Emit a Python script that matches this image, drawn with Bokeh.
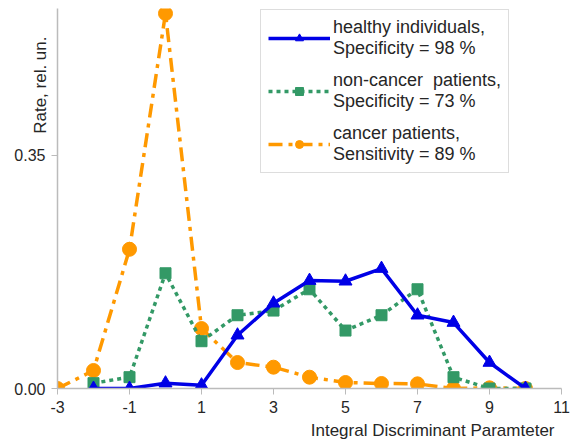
from bokeh.plotting import figure
from bokeh.models import Legend, LegendItem, FixedTicker, NumeralTickFormatter, Range1d, Title
from bokeh.embed import file_html
from bokeh.resources import INLINE

healthy_x = [-2, -1, 0, 1, 2, 3, 4, 5, 6, 7, 8, 9, 10]
healthy = [0.0, 0.0, 0.008, 0.005, 0.080, 0.128, 0.162, 0.161, 0.180, 0.110, 0.099, 0.039, 0.0]

noncancer_x = [-2, -1, 0, 1, 2, 3, 4, 5, 6, 7, 8, 9, 10]
noncancer = [0.008, 0.017, 0.173, 0.071, 0.110, 0.117, 0.149, 0.087, 0.110, 0.149, 0.017, 0.0, 0.0]

cancer_x = [-3, -2, -1, 0, 1, 2, 3, 4, 5, 6, 7, 8, 9, 10]
cancer = [0.0, 0.027, 0.209, 0.563, 0.090, 0.039, 0.032, 0.017, 0.009, 0.0075, 0.007, 0.0, 0.001, 0.0]

x_ticks = [-3, -1, 1, 3, 5, 7, 9, 11]
y_ticks = [0.0, 0.35]
x_tick_labels = {t: str(t) for t in x_ticks}

labels = ["healthy individuals,\nSpecificity = 98 %",
          "non-cancer  patients,\nSpecificity = 73 %",
          "cancer patients,\nSensitivity = 89 %"]
x_title = "Integral Discriminant Paramteter"
y_title = "Rate, rel. un."

BLUE = "#0000e6"
GREEN = "#339966"
ORANGE = "#ff9900"
TEXT = "#262626"
FONT = "Liberation Sans"

p = figure(width=571, height=445, output_backend="svg", toolbar_location=None,
           x_range=Range1d(-3, 11), y_range=Range1d(0, 0.5705),
           min_border_left=57, min_border_right=10, min_border_top=8, min_border_bottom=57)
p.outline_line_color = None
p.xgrid.visible = False
p.ygrid.visible = False

r_can_l = p.line(cancer_x, cancer, color=ORANGE, line_width=3.5, line_dash="14 6 4 6")
r_can_m = p.scatter(cancer_x, cancer, marker="circle", size=14, color=ORANGE)
r_non_l = p.line(noncancer_x, noncancer, color=GREEN, line_width=3.5, line_dash="4 4")
r_non_m = p.scatter(noncancer_x, noncancer, marker="square", size=11, color=GREEN)
r_hea_l = p.line(healthy_x, healthy, color=BLUE, line_width=3.5)
r_hea_m = p.scatter(healthy_x, healthy, marker="triangle", size=13, color=BLUE)

legend = Legend(items=[
    LegendItem(label=labels[0], renderers=[r_hea_l, r_hea_m]),
    LegendItem(label=labels[1], renderers=[r_non_l, r_non_m]),
    LegendItem(label=labels[2], renderers=[r_can_l, r_can_m]),
], location=(203, 215))
legend.label_text_font = FONT
legend.label_text_font_size = "18px"
legend.label_text_color = TEXT
legend.glyph_width = 62
legend.glyph_height = 20
legend.label_standoff = 3
legend.spacing = 11
legend.padding = 7
legend.margin = 0
legend.border_line_color = "#bbbbbb"
legend.border_line_width = 1
legend.background_fill_alpha = 1
p.add_layout(legend, "center")

p.xaxis.ticker = FixedTicker(ticks=x_ticks)
p.xaxis.major_label_overrides = x_tick_labels
p.yaxis.ticker = FixedTicker(ticks=y_ticks)
p.yaxis.formatter = NumeralTickFormatter(format="0.00")
for ax in (p.xaxis[0], p.yaxis[0]):
    ax.axis_line_color = "#bbbbbb"
    ax.axis_line_width = 1.5
    ax.major_tick_line_color = "#bbbbbb"
    ax.minor_tick_line_color = None
    ax.major_tick_in = 0
    ax.major_tick_out = 6
    ax.major_label_text_font = FONT
    ax.major_label_text_font_size = "16px"
    ax.major_label_text_color = TEXT
    ax.major_label_standoff = 6

p.add_layout(Title(text=x_title, align="right", text_font=FONT, text_font_size="17px",
                   text_font_style="normal", text_color=TEXT, standoff=6, offset=7), "below")
p.add_layout(Title(text=y_title, align="right", text_font=FONT, text_font_size="17px",
                   text_font_style="normal", text_color=TEXT, standoff=-77, offset=28), "left")

open("out.html", "w").write(file_html(p, INLINE))
